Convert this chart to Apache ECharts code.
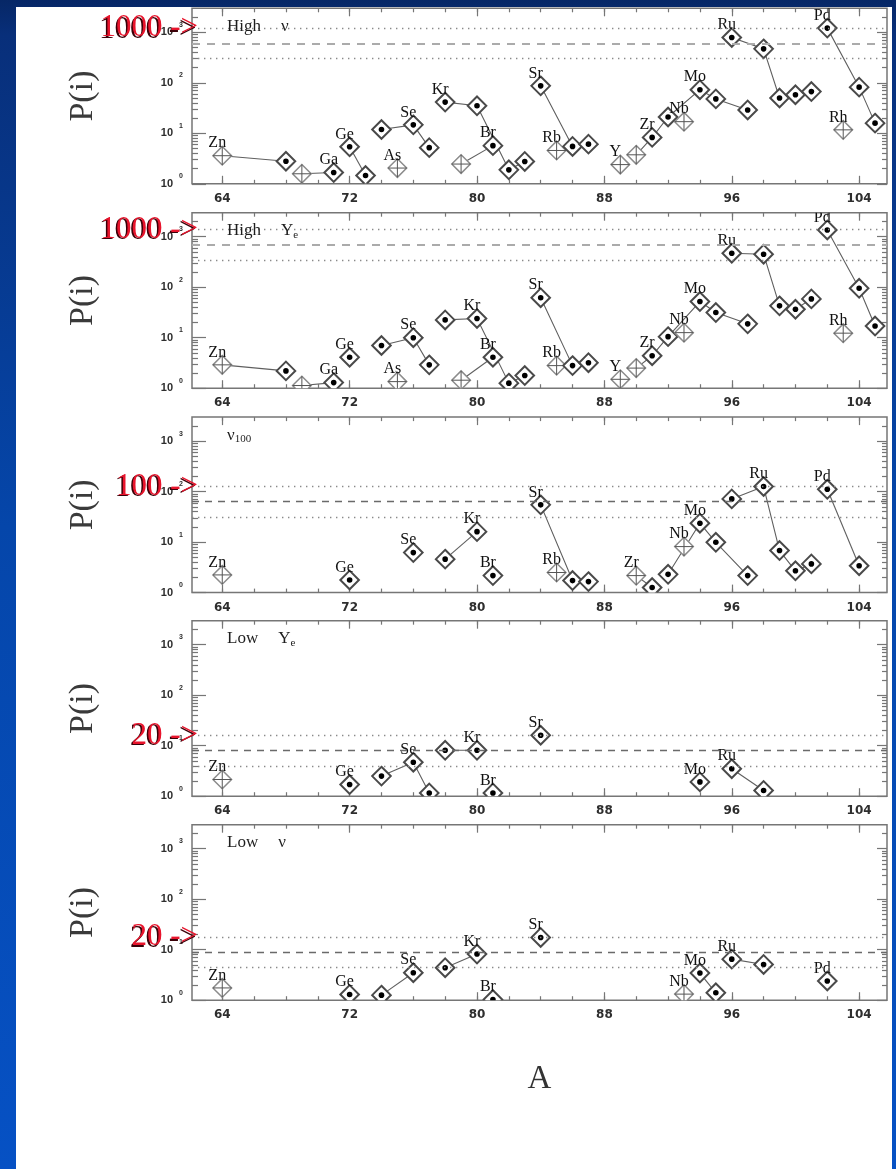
<!DOCTYPE html>
<html>
<head>
<meta charset="utf-8">
<script src="https://cdn.jsdelivr.net/npm/echarts@6/dist/echarts.min.js"></script>
<style>
  html, body { margin: 0; padding: 0; }
  #chart { width: 896px; height: 1169px; }
</style>
</head>
<body>
<div id="chart"></div>
<script>
// ---- Isotope probabilities P(i) versus mass number A, five scenarios ----

// High neutrino flux
const highNuA = [64, 68, 69, 71, 72, 73, 74, 75, 76, 77, 78, 79, 80, 81, 82, 83, 84, 85, 86, 87, 89, 90, 91, 92, 93, 94, 95, 96, 97, 98, 99, 100, 101, 102, 103, 104, 105];
const highNuP = [3.6, 2.8, 1.58, 1.67, 5.4, 1.46, 11.9, 2.05, 14.7, 5.2, 41.5, 2.46, 35, 5.7, 1.89, 2.77, 87, 4.57, 5.5, 6.1, 2.4, 3.75, 8.3, 21, 17, 73, 48, 790, 29, 470, 50, 58, 67, 1210, 11.7, 82, 15.9];
const highNuCross = [64, 69, 75, 79, 85, 89, 90, 93, 103];
const highNuChains = [[64, 68], [69, 71], [72, 73], [74, 76, 77], [78, 80, 82, 83], [79, 81], [84, 86, 87], [90, 91, 92, 94, 95, 97], [96, 98, 99, 100, 101], [102, 104, 105]];
const highNuLabels = [['Zn', 64], ['Ga', 71], ['Ge', 72], ['As', 75], ['Se', 76], ['Kr', 78], ['Br', 81], ['Sr', 84], ['Rb', 85], ['Y', 89], ['Zr', 91], ['Nb', 93], ['Mo', 94], ['Ru', 96], ['Pd', 102], ['Rh', 103]];

// High electron fraction
const highYeA = [64, 68, 69, 71, 72, 74, 75, 76, 77, 78, 79, 80, 81, 82, 83, 84, 85, 86, 87, 89, 90, 91, 92, 93, 94, 95, 96, 97, 98, 99, 100, 101, 102, 103, 104, 105];
const highYeP = [2.9, 2.2, 1.13, 1.29, 4.1, 7.0, 1.35, 10.0, 2.9, 22.5, 1.44, 24, 4.1, 1.26, 1.78, 62, 2.8, 2.8, 3.2, 1.5, 2.5, 4.4, 10.5, 12.6, 52, 31.5, 470, 18.8, 450, 42.7, 36.6, 58.7, 1360, 12.3, 95, 17];
const highYeCross = [64, 69, 75, 79, 85, 89, 90, 93, 103];
const highYeChains = [[64, 68], [69, 71], [74, 76, 77], [78, 80, 82, 83], [79, 81], [84, 86, 87], [90, 91, 92, 94, 95, 97], [96, 98, 99, 100, 101], [102, 104, 105]];
const highYeLabels = [['Zn', 64], ['Ga', 71], ['Ge', 72], ['As', 75], ['Se', 76], ['Kr', 80], ['Br', 81], ['Sr', 84], ['Rb', 85], ['Y', 89], ['Zr', 91], ['Nb', 93], ['Mo', 94], ['Ru', 96], ['Pd', 102], ['Rh', 103]];

// Wind velocity 100
const nu100A = [64, 72, 76, 78, 80, 81, 84, 85, 86, 87, 90, 91, 92, 93, 94, 95, 96, 97, 98, 99, 100, 101, 102, 104];
const nu100P = [2.24, 1.78, 6.2, 4.6, 16.1, 2.17, 54.6, 2.5, 1.73, 1.65, 2.17, 1.26, 2.3, 8.15, 23.7, 9.9, 71.7, 2.17, 126, 6.8, 2.7, 3.7, 111, 3.4];
const nu100Cross = [64, 85, 90, 93];
const nu100Chains = [[78, 80], [84, 86, 87], [90, 91], [92, 94, 95, 97], [96, 98, 99, 100, 101], [102, 104]];
const nu100Labels = [['Zn', 64], ['Ge', 72], ['Se', 76], ['Kr', 80], ['Br', 81], ['Sr', 84], ['Rb', 85], ['Zr', 90], ['Nb', 93], ['Mo', 94], ['Ru', 98], ['Pd', 102]];

// Low electron fraction
const lowYeA = [64, 72, 74, 76, 77, 78, 80, 81, 84, 94, 96, 98];
const lowYeP = [2.14, 1.7, 2.5, 4.7, 1.16, 8.1, 8.1, 1.16, 16.1, 1.92, 3.5, 1.3];
const lowYeCross = [64];
const lowYeChains = [[74, 76, 77], [78, 80], [96, 98]];
const lowYeLabels = [['Zn', 64], ['Ge', 72], ['Se', 76], ['Kr', 80], ['Br', 81], ['Sr', 84], ['Mo', 94], ['Ru', 96]];

// Low neutrino flux
const lowNuA = [64, 72, 74, 76, 78, 80, 81, 84, 93, 94, 95, 96, 98, 102];
const lowNuP = [1.75, 1.3, 1.26, 3.5, 4.4, 8.2, 1.03, 17.5, 1.32, 3.45, 1.4, 6.5, 5.1, 2.4];
const lowNuCross = [64, 93];
const lowNuChains = [[74, 76], [78, 80], [94, 95], [96, 98]];
const lowNuLabels = [['Zn', 64], ['Ge', 72], ['Se', 76], ['Kr', 80], ['Br', 81], ['Sr', 84], ['Nb', 93], ['Mo', 94], ['Ru', 96], ['Pd', 102]];

// Panel captions (rich text: t = word, g = spaced symbol, v = leading symbol, s = subscript)
const panelTitles = ['{t|High}{g|ν}', '{t|High}{g|Y}{s|e}', '{v|ν}{s|100}', '{t|Low}{g|Y}{s|e}', '{t|Low}{g|ν}'];
// Reference level per panel (dashed), dotted lines at x2 and x1/2
const meanLevels = [600, 690, 63, 8, 8.8];
// Red call-outs on the upper dotted line
const arrowNotes = ['1000', '1000', '100', '20', '20'];

// Axis ticks
const massTicks = [64, 72, 80, 88, 96, 104];
const decadeTicks = [1, 10, 100, 1000];

// ---- layout ----
const GRID_LEFT = 192, GRID_WIDTH = 695, PANEL_H = 175.5, PX_PER_DECADE = 50.5;
const PANEL_BOTTOMS = [183.8, 388.2, 592.6, 796.2, 1000.2];
const A_MIN = 62.1, A_MAX = 105.75;
const P_MAX = Math.pow(10, PANEL_H / PX_PER_DECADE);

const massMinorTicks = [];
for (let a = 64; a <= 104; a += 2) massMinorTicks.push(a);
const decadeMinorTicks = [];
for (const d of [1, 10, 100, 1000]) for (let m = 2; m <= 9; m++) if (m * d < P_MAX) decadeMinorTicks.push(m * d);

const panels = [
  { A: highNuA, P: highNuP, cross: highNuCross, chains: highNuChains, labels: highNuLabels },
  { A: highYeA, P: highYeP, cross: highYeCross, chains: highYeChains, labels: highYeLabels },
  { A: nu100A, P: nu100P, cross: nu100Cross, chains: nu100Chains, labels: nu100Labels },
  { A: lowYeA, P: lowYeP, cross: lowYeCross, chains: lowYeChains, labels: lowYeLabels },
  { A: lowNuA, P: lowNuP, cross: lowNuCross, chains: lowNuChains, labels: lowNuLabels }
];

const FRAME = '#767676';
const tickStyle = { color: FRAME, width: 1.2 };
const serif = '"Liberation Serif", "Times New Roman", serif';

const grids = [], xAxes = [], yAxes = [], series = [], titles = [];

function xAxisDef(gi, position, ticks, len, labels, extra) {
  return Object.assign({
    type: 'value', gridIndex: gi, position: position, min: A_MIN, max: A_MAX,
    axisLine: { show: false, onZero: false },
    splitLine: { show: false },
    axisTick: { show: true, inside: true, length: len, customValues: ticks, lineStyle: tickStyle },
    axisLabel: labels ? {
      show: true, customValues: ticks, margin: 9, color: '#2e2e2e',
      fontSize: 12, fontWeight: 'bold', fontFamily: '"DejaVu Sans", sans-serif'
    } : { show: false }
  }, extra || {});
}

function yAxisDef(gi, position, ticks, len, labels, extra) {
  return Object.assign({
    type: 'log', logBase: 10, gridIndex: gi, position: position, min: 1, max: P_MAX,
    axisLine: { show: false, onZero: false },
    splitLine: { show: false },
    axisTick: { show: true, inside: true, length: len, customValues: ticks, lineStyle: tickStyle },
    axisLabel: labels ? {
      show: true, customValues: ticks, margin: 9,
      formatter: v => '{b|10}{e|' + Math.round(Math.log10(v)) + '}',
      rich: {
        b: { fontSize: 11, fontWeight: 'bold', fontFamily: '"Liberation Sans", sans-serif', color: '#2e2e2e', lineHeight: 22 },
        e: { fontSize: 7, fontWeight: 'bold', fontFamily: '"Liberation Sans", sans-serif', color: '#2e2e2e', verticalAlign: 'top', lineHeight: 9, padding: [0, 0, 0, 6] }
      }
    } : { show: false }
  }, extra || {});
}

panels.forEach((pn, i) => {
  const top = PANEL_BOTTOMS[i] - PANEL_H;
  grids.push({
    left: GRID_LEFT, top: top, width: GRID_WIDTH, height: PANEL_H,
    show: true, borderColor: FRAME, borderWidth: 1.5, backgroundColor: 'rgba(0,0,0,0)',
    containLabel: false, outerBoundsMode: 'none'
  });

  const last = i === panels.length - 1;
  xAxes.push(xAxisDef(i, 'bottom', massTicks, 8, true, last ? {
    name: 'A', nameLocation: 'middle', nameGap: 63,
    nameTextStyle: { fontFamily: serif, fontSize: 33, color: '#333' }
  } : {}));
  xAxes.push(xAxisDef(i, 'bottom', massMinorTicks, 4, false));
  xAxes.push(xAxisDef(i, 'top', massTicks, 8, false));
  xAxes.push(xAxisDef(i, 'top', massMinorTicks, 4, false));

  yAxes.push(yAxisDef(i, 'left', decadeTicks, 14, true, {
    name: 'P(i)', nameLocation: 'middle', nameRotate: 90, nameGap: 92,
    nameTextStyle: { fontFamily: serif, fontSize: 34, color: '#3a3a3a' }
  }));
  yAxes.push(yAxisDef(i, 'left', decadeMinorTicks, 6, false));
  yAxes.push(yAxisDef(i, 'right', decadeTicks, 10, false));
  yAxes.push(yAxisDef(i, 'right', decadeMinorTicks, 5, false));

  const xi = i * 4, yi = i * 4;
  const valueAt = a => pn.P[pn.A.indexOf(a)];
  const mean = meanLevels[i];
  const bright = i < 2;

  // isotope chains
  pn.chains.forEach((chain, c) => {
    const s = {
      type: 'line', xAxisIndex: xi, yAxisIndex: yi, z: 2,
      data: chain.map(a => [a, valueAt(a)]),
      symbol: 'none', silent: true, animation: false,
      lineStyle: { color: '#5f5f5f', width: 1.1 }
    };
    if (c === 0) {
      s.markLine = {
        symbol: 'none', silent: true, animation: false,
        label: { show: false },
        data: [
          {
            yAxis: mean * 2,
            lineStyle: { color: '#8a8a8a', width: 1.4, type: [1.4, 4.6] },
            label: {
              show: true, position: 'start', distance: -6, formatter: arrowNotes[i] + ' ->',
              color: '#e8142c', fontFamily: serif, fontSize: 31,
              textShadowColor: '#3a0008', textShadowOffsetX: -1.5, textShadowOffsetY: 1.2, textShadowBlur: 0.5
            }
          },
          { yAxis: mean, lineStyle: bright ? { color: '#ababab', width: 2.2, type: [8, 7] } : { color: '#6a6a6a', width: 1.3, type: [7, 6] } },
          { yAxis: mean / 2, lineStyle: { color: '#8a8a8a', width: 1.4, type: [1.4, 4.6] } }
        ]
      };
    }
    series.push(s);
  });

  // diamonds with dot / cross centres and element names
  const labelFor = {};
  pn.labels.forEach(l => { labelFor[l[1]] = l[0]; });
  series.push({
    type: 'custom', xAxisIndex: xi, yAxisIndex: yi, z: 4, clip: true, silent: true, animation: false,
    data: pn.A.map((a, k) => [a, pn.P[k], pn.cross.indexOf(a) >= 0 ? 1 : 0]),
    encode: { x: 0, y: 1 },
    renderItem: (params, api) => {
      const a = api.value(0);
      const p = api.coord([a, api.value(1)]);
      const cross = api.value(2) === 1;
      const h = 9.3;
      const cx = p[0], cy = p[1];
      const kids = [{
        type: 'polygon',
        shape: { points: [[cx, cy - h], [cx + h, cy], [cx, cy + h], [cx - h, cy]] },
        style: { fill: '#fff', stroke: cross ? '#8c8c8c' : '#4a4a4a', lineWidth: cross ? 1.5 : 2 }
      }];
      if (cross) {
        kids.push({ type: 'line', shape: { x1: cx, y1: cy - h, x2: cx, y2: cy + h }, style: { stroke: '#555', lineWidth: 1 } });
        kids.push({ type: 'line', shape: { x1: cx - h, y1: cy, x2: cx + h, y2: cy }, style: { stroke: '#555', lineWidth: 1 } });
      } else {
        kids.push({ type: 'circle', shape: { cx: cx, cy: cy, r: 2.8 }, style: { fill: '#000' } });
      }
      const name = labelFor[a];
      if (name) {
        kids.push({
          type: 'text', z2: 10,
          style: { text: name, x: cx - 5, y: cy - 12.5, align: 'center', verticalAlign: 'middle',
                   font: '16px ' + serif, fill: '#111' }
        });
      }
      return { type: 'group', children: kids };
    }
  });

  const cap = { fontFamily: serif, fontSize: 17, fontWeight: 'normal', color: '#1e1e1e', lineHeight: 20 };
  titles.push({
    text: panelTitles[i], left: 227, top: top + 8, padding: 0,
    textStyle: {
      fontWeight: 'normal',
      rich: {
        t: cap,
        v: cap,
        g: Object.assign({}, cap, { padding: [0, 0, 0, 20] }),
        s: { fontFamily: serif, fontSize: 11, fontWeight: 'normal', color: '#1e1e1e', lineHeight: 11, verticalAlign: 'bottom' }
      }
    }
  });
});

const chart = echarts.init(document.getElementById('chart'), null, { renderer: 'canvas', width: 896, height: 1169 });
chart.setOption({
  animation: false,
  backgroundColor: new echarts.graphic.LinearGradient(0, 0, 0, 1, [
    { offset: 0, color: '#062766' },
    { offset: 0.03, color: '#082f7a' },
    { offset: 0.45, color: '#0546aa' },
    { offset: 1, color: '#0651c4' }
  ]),
  graphic: [{
    type: 'rect', z: -1, silent: true,
    shape: { x: 16, y: 7, width: 876, height: 1162 },
    style: { fill: '#ffffff' }
  }],
  title: titles,
  grid: grids,
  xAxis: xAxes,
  yAxis: yAxes,
  series: series
});
</script>
</body>
</html>
